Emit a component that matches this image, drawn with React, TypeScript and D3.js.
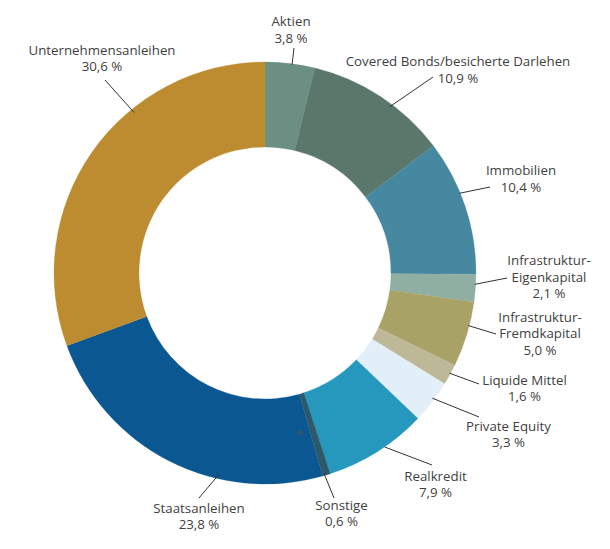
import React from "react";
import * as d3 from "d3";

const categories = [
  "Aktien",
  "Covered Bonds/besicherte Darlehen",
  "Immobilien",
  "Infrastruktur-Eigenkapital",
  "Infrastruktur-Fremdkapital",
  "Liquide Mittel",
  "Private Equity",
  "Realkredit",
  "Sonstige",
  "Staatsanleihen",
  "Unternehmensanleihen",
];
const values = [3.8, 10.9, 10.4, 2.1, 5.0, 1.6, 3.3, 7.9, 0.6, 23.8, 30.6];
const valueLabels = ["3,8 %", "10,9 %", "10,4 %", "2,1 %", "5,0 %", "1,6 %", "3,3 %", "7,9 %", "0,6 %", "23,8 %", "30,6 %"];
const labelLines = [
  ["Aktien"],
  ["Covered Bonds/besicherte Darlehen"],
  ["Immobilien"],
  ["Infrastruktur-", "Eigenkapital"],
  ["Infrastruktur-", "Fremdkapital"],
  ["Liquide Mittel"],
  ["Private Equity"],
  ["Realkredit"],
  ["Sonstige"],
  ["Staatsanleihen"],
  ["Unternehmensanleihen"],
];
const colors = [
  "#6b9083",
  "#5b776c",
  "#46889f",
  "#8fafa3",
  "#a9a267",
  "#bdb998",
  "#e2eff9",
  "#2698bd",
  "#2d5a6a",
  "#0b5792",
  "#bd8c30",
];

// layout: leader start angle (deg, clockwise from top), leader end point, label center x, first baseline y
const layout = [
  { a: 7.4, r: 210, ex: 294, ey: 48, lx: 291, ly: 26 },
  { a: 36.9, r: 208, ex: 433, ey: 77, lx: 458, ly: 66 },
  { a: 67.7, r: 210, ex: 490, ey: 187, lx: 521, ly: 175 },
  { a: 93.1, r: 210, ex: 507, ey: 278, lx: 549, ly: 265 },
  { a: 104.5, r: 210, ex: 496, ey: 334, lx: 540, ly: 321.5 },
  { a: 118.5, r: 210, ex: 479, ey: 384, lx: 524.5, ly: 384.5 },
  { a: 126.8, r: 209, ex: 479, ey: 417, lx: 508.5, ly: 430.5 },
  { a: 145.5, r: 211, ex: 432, ey: 465, lx: 435.5, ly: 480.5 },
  { a: 163.6, r: 209, ex: 334, ey: 498, lx: 341.5, ly: 509.5 },
  { a: 192.8, r: 206, ex: 199, ey: 498, lx: 199, ly: 512.5 },
  { a: 320.8, r: 207, ex: 105, ey: 80, lx: 102, ly: 54.5 },
];

const W = 610;
const H = 549;
const cx = 265;
const cy = 273;
const outerR = 211;
const innerR = 126;
const lineH = 16.5;

export default function App() {
  const pie = d3.pie<number>().value((d) => d).sort(null);
  const arcs = pie(values);
  const arc = d3.arc<d3.PieArcDatum<number>>().innerRadius(innerR).outerRadius(outerR);

  return (
    <svg
      width={W}
      height={H}
      style={{ position: "absolute", left: 0, top: 0, background: "#fff" }}
      fontFamily="'Open Sans', 'Noto Sans', sans-serif"
      fontSize={13.3}
    >
      <g transform={`translate(${cx},${cy})`}>
        {arcs.map((a, i) => (
          <path key={i} d={arc(a) || ""} fill={colors[i]} stroke={colors[i]} strokeWidth={0.3} />
        ))}
        <rect x={33} y={157} width={5} height={5} fill="#2d5a6a" />
      </g>
      {layout.map((l, i) => {
        const rad = (l.a * Math.PI) / 180;
        const sx = cx + l.r * Math.sin(rad);
        const sy = cy - l.r * Math.cos(rad);
        return <line key={i} x1={sx} y1={sy} x2={l.ex} y2={l.ey} stroke="#333" strokeWidth={1} />;
      })}
      {layout.map((l, i) => {
        const lines = [...labelLines[i], valueLabels[i]];
        return (
          <text key={i} x={l.lx} y={l.ly} textAnchor="middle" fill="#3f3f3f">
            {lines.map((t, j) => (
              <tspan key={j} x={l.lx} y={l.ly + j * lineH}>
                {t}
              </tspan>
            ))}
          </text>
        );
      })}
    </svg>
  );
}
